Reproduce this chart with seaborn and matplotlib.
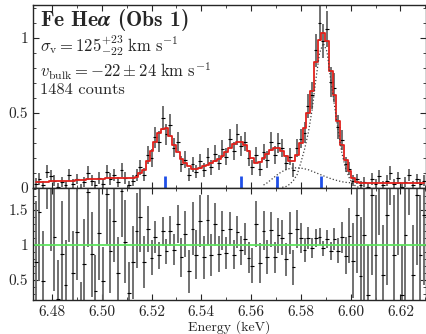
import numpy as np
import matplotlib
matplotlib.use("Agg")
import matplotlib.pyplot as plt
import seaborn as sns
from matplotlib.ticker import MultipleLocator, FuncFormatter

# spectrum bins (keV)
e_start = 6.4735
e_width = 0.0015
n_bins = 105

# folded model (counts/s/keV)
model = [0.040, 0.041, 0.042, 0.043, 0.044, 0.045, 0.045, 0.046, 0.047, 0.048,
         0.050, 0.051, 0.053, 0.055, 0.057, 0.058, 0.059, 0.060, 0.062, 0.064,
         0.066, 0.067, 0.068, 0.068, 0.067, 0.066, 0.067, 0.075,
         0.100, 0.120, 0.180, 0.245, 0.305, 0.365, 0.395, 0.398, 0.350, 0.290,
         0.240, 0.195, 0.165, 0.145, 0.130, 0.128,
         0.135, 0.146, 0.155, 0.165, 0.178, 0.195, 0.215, 0.240, 0.270, 0.292,
         0.305, 0.305, 0.285, 0.245, 0.200, 0.170,
         0.175, 0.200, 0.230, 0.255, 0.268, 0.265, 0.245, 0.215, 0.180, 0.178, 0.220,
         0.300, 0.400, 0.500, 0.650, 0.840, 0.990, 1.035, 0.980, 0.780, 0.620,
         0.450, 0.290, 0.190, 0.115, 0.065, 0.042, 0.036,
         0.035, 0.035, 0.035, 0.035, 0.035, 0.035, 0.035, 0.035, 0.035, 0.035,
         0.035, 0.035, 0.035, 0.035, 0.035, 0.035, 0.035]

# observed rate and 1-sigma errors
rate = [0.03, 0.06, 0.02, 0.11, 0.08, 0.05, 0.01, 0.04, 0.02, 0.09,
        0.03, 0.06, 0.00, 0.04, 0.10, 0.05, 0.02, 0.07, 0.03, 0.11,
        0.06, 0.09, 0.04, 0.12, 0.07, 0.02, 0.05, 0.09,
        0.14, 0.09, 0.22, 0.20, 0.34, 0.31, 0.47, 0.36, 0.42, 0.27,
        0.31, 0.16, 0.19, 0.09, 0.16, 0.11,
        0.18, 0.12, 0.21, 0.14, 0.23, 0.17, 0.26, 0.21, 0.33, 0.25,
        0.36, 0.28, 0.31, 0.20, 0.14, 0.22,
        0.13, 0.24, 0.19, 0.31, 0.22, 0.30, 0.27, 0.17, 0.21, 0.12, 0.27,
        0.33, 0.37, 0.55, 0.62, 0.92, 1.10, 0.98, 1.06, 0.71, 0.67,
        0.41, 0.32, 0.16, 0.13, 0.05, 0.06, 0.02,
        0.04, 0.01, 0.06, 0.03, 0.08, 0.02, 0.05, 0.10, 0.03, 0.07,
        0.01, 0.04, 0.09, 0.02, 0.06, 0.03, 0.05]
rate_err = [0.035, 0.04, 0.03, 0.045, 0.04, 0.035, 0.025, 0.035, 0.03, 0.04,
            0.03, 0.035, 0.025, 0.035, 0.045, 0.035, 0.03, 0.04, 0.03, 0.045,
            0.04, 0.04, 0.035, 0.045, 0.04, 0.03, 0.035, 0.04,
            0.05, 0.045, 0.06, 0.06, 0.07, 0.07, 0.08, 0.07, 0.075, 0.065,
            0.065, 0.055, 0.055, 0.045, 0.05, 0.045,
            0.05, 0.045, 0.055, 0.05, 0.055, 0.05, 0.06, 0.055, 0.065, 0.06,
            0.07, 0.065, 0.065, 0.055, 0.05, 0.055,
            0.05, 0.055, 0.055, 0.065, 0.06, 0.065, 0.06, 0.05, 0.055, 0.045, 0.06,
            0.065, 0.07, 0.08, 0.09, 0.11, 0.12, 0.115, 0.12, 0.10, 0.095,
            0.08, 0.065, 0.05, 0.045, 0.035, 0.035, 0.03,
            0.035, 0.025, 0.04, 0.03, 0.04, 0.025, 0.035, 0.045, 0.03, 0.04,
            0.025, 0.035, 0.04, 0.025, 0.035, 0.03, 0.035]

# model components (dotted)
w_first = 66
w_comp = [0.005, 0.010, 0.025, 0.050, 0.090, 0.170, 0.260, 0.370, 0.520, 0.720,
          0.900, 0.965, 0.910, 0.720, 0.550, 0.380, 0.230, 0.130, 0.065, 0.025,
          0.008, 0.002]
b_first = 61
b_comp = [0.020, 0.035, 0.055, 0.075, 0.095, 0.110, 0.122, 0.130, 0.134, 0.135,
          0.133, 0.128, 0.122, 0.112, 0.102, 0.092, 0.082, 0.072, 0.063, 0.055,
          0.048, 0.042, 0.038, 0.036, 0.035]

# line markers (keV)
line_e = [6.5256, 6.556, 6.5704, 6.588]

energy = e_start + e_width * np.arange(n_bins)
model = np.array(model)
rate = np.array(rate)
rate_err = np.array(rate_err)
ratio = rate / model
ratio_err = rate_err / model

sns.set_style("ticks")
plt.rcParams["font.family"] = "serif"
plt.rcParams["font.serif"] = ["cmr10", "DejaVu Serif"]
plt.rcParams["mathtext.fontset"] = "cm"
plt.rcParams["axes.unicode_minus"] = False
plt.rcParams["axes.formatter.use_mathtext"] = True

fig = plt.figure(figsize=(4.27, 3.34), dpi=100)
ax1 = fig.add_axes([0.0773, 0.437, 0.92, 0.548])
ax2 = fig.add_axes([0.0773, 0.102, 0.92, 0.335], sharex=ax1)

# top: spectrum
ax1.errorbar(energy, rate, yerr=rate_err, fmt="none", ecolor="0.4", elinewidth=1.3)
ax1.errorbar(energy, rate, xerr=e_width / 2, fmt="none", ecolor="k", elinewidth=0.8)
sns.lineplot(x=energy, y=model, ax=ax1, color="#e0201b", lw=1.3,
             drawstyle="steps-mid", estimator=None, sort=False)
sns.lineplot(x=energy[w_first:w_first + len(w_comp)], y=w_comp, ax=ax1,
             color="0.25", lw=0.9, ls=":", estimator=None, sort=False)
sns.lineplot(x=energy[b_first:b_first + len(b_comp)], y=b_comp, ax=ax1,
             color="0.25", lw=0.9, ls=":", estimator=None, sort=False)
ax1.vlines(line_e, 0, 0.08, color="#1f4fe8", lw=2)

ax1.text(0.018, 0.99, r"Fe He$\boldsymbol{\alpha}$ (Obs 1)", family="cmb10",
         transform=ax1.transAxes, va="top", fontsize=15.5)
ax1.text(0.018, 0.778, r"$\sigma_{\rm v} = 125^{+23}_{-22}\ {\rm km\ s^{-1}}$",
         transform=ax1.transAxes, va="center", fontsize=12)
ax1.text(0.018, 0.64, r"$v_{\rm bulk} = -22 \pm 24\ {\rm km\ s^{-1}}$",
         transform=ax1.transAxes, va="center", fontsize=12)
ax1.text(0.018, 0.535, "1484 counts", transform=ax1.transAxes, va="center", fontsize=11.8)

ax1.set_ylim(0, 1.22)
ax1.set_xlim(6.4724, 6.6302)

# bottom: ratio
ax2.errorbar(energy, ratio, yerr=ratio_err, fmt="none", ecolor="0.4", elinewidth=1.3)
ax2.errorbar(energy, ratio, xerr=e_width / 2, fmt="none", ecolor="k", elinewidth=0.8)
ax2.axhline(1, color="#5fe35f", lw=1.3)
ax2.set_ylim(0.21, 1.81)
ax2.set_xlabel("Energy (keV)", fontsize=10, labelpad=1)

fmt = FuncFormatter(lambda v, p: f"{v:g}")
for ax in (ax1, ax2):
    ax.tick_params(which="both", direction="in", top=True, right=True, labelsize=11)
    ax.tick_params(which="major", length=4, width=0.8)
    ax.tick_params(which="minor", length=2, width=0.6)
    ax.xaxis.set_major_locator(MultipleLocator(0.02))
    ax.xaxis.set_minor_locator(MultipleLocator(0.01))
    ax.yaxis.set_major_formatter(fmt)
    ax.xaxis.set_major_formatter(FuncFormatter(lambda v, p: f"{v:.2f}"))
    for s in ax.spines.values():
        s.set_linewidth(1.0)
ax1.yaxis.set_major_locator(MultipleLocator(0.5))
ax1.yaxis.set_minor_locator(MultipleLocator(0.1))
ax2.yaxis.set_major_locator(MultipleLocator(0.5))
ax2.yaxis.set_minor_locator(MultipleLocator(0.1))
ax1.tick_params(labelbottom=False)
ax1.set_ylabel("")
ax2.set_ylabel("")

fig.savefig("out.png", dpi=100)
